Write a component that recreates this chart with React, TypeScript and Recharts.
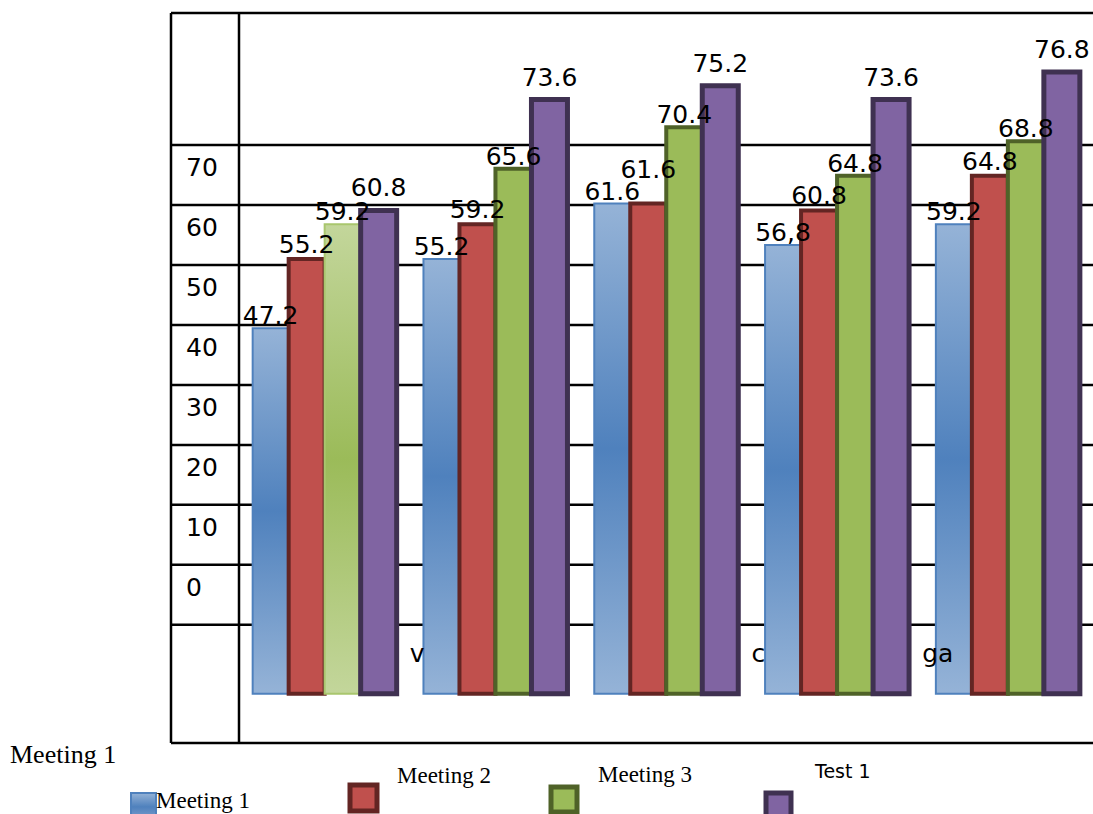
import { BarChart, Bar, XAxis, YAxis, CartesianGrid, LabelList, Cell } from "recharts";

// group names (mostly hidden behind the bars)
const categories = ["", "v", "", "c", "ga"];

const meeting1 = [47.2, 55.2, 61.6, 56.8, 59.2];
const meeting1Text = ["47.2", "55.2", "61.6", "56,8", "59.2"];
const meeting2 = [55.2, 59.2, 61.6, 60.8, 64.8];
const meeting3 = [59.2, 65.6, 70.4, 64.8, 68.8];
const test1 = [60.8, 73.6, 75.2, 73.6, 76.8];

const valueTicks = [0, 10, 20, 30, 40, 50, 60, 70];
const rowEdges = [-24.7, -5, 5, 15, 25, 35, 45, 55, 65, 75, 97];

const BAR_FLOOR = 5;
const LABEL_COLUMN = 68;
const W = 1093;
const H = 814;
const LABEL_FONT = "DejaVu Sans";
const LABEL_SIZE = 25;

const data = categories.map((name, i) => ({
  name,
  m1: meeting1[i],
  m1Text: meeting1Text[i],
  m2: meeting2[i],
  m2Text: meeting2[i].toFixed(1),
  m3: meeting3[i],
  m3Text: meeting3[i].toFixed(1),
  t1: test1[i],
  t1Text: test1[i].toFixed(1),
}));

function ValueTick({ y, payload }: any) {
  return (
    <text x={186} y={y + 1} fontFamily={LABEL_FONT} fontSize={LABEL_SIZE} fill="#000">
      {payload.value}
    </text>
  );
}

function CategoryTick({ x, payload }: any) {
  const start = x - (payload.offset ?? 0);
  return (
    <text x={start} y={662} fontFamily={LABEL_FONT} fontSize={LABEL_SIZE} fill="#000">
      {payload.value}
    </text>
  );
}

// Meeting 2 labels climb above the Meeting 1 label when both values are close
function Meeting2Label({ x, y, width, value, index }: any) {
  const lift = Math.abs(meeting1[index] - meeting2[index]) < 2 ? 20 : 0;
  return (
    <text
      x={x + width / 2}
      y={y - 6 - lift}
      textAnchor="middle"
      fontFamily={LABEL_FONT}
      fontSize={LABEL_SIZE}
      fill="#000"
    >
      {value}
    </text>
  );
}

const labelStyle = { fontFamily: LABEL_FONT, fontSize: LABEL_SIZE, fill: "#000" };

function Legend() {
  const serif = "Liberation Serif";
  return (
    <svg width={W} height={H} style={{ position: "absolute", left: 0, top: 0, pointerEvents: "none" }}>
      <defs>
        <linearGradient id="legendBlue" x1="0" y1="0" x2="0" y2="1">
          <stop offset="0%" stopColor="#95B3D7" />
          <stop offset="60%" stopColor="#4F81BD" />
          <stop offset="100%" stopColor="#6F95C8" />
        </linearGradient>
      </defs>
      <text x={10} y={763} fontFamily={serif} fontSize={26} fill="#000">Meeting 1</text>

      <rect x={131} y={793} width={25} height={23} fill="url(#legendBlue)" stroke="#4F81BD" strokeWidth={2} />
      <text x={156} y={808} fontFamily={serif} fontSize={23} fill="#000">Meeting 1</text>

      <rect x={350} y={785} width={27} height={26} fill="#C0504D" stroke="#632523" strokeWidth={5} />
      <text x={397} y={783} fontFamily={serif} fontSize={23} fill="#000">Meeting 2</text>

      <rect x={551} y={787} width={26} height={25} fill="#9BBB59" stroke="#4F6228" strokeWidth={5} />
      <text x={598} y={782} fontFamily={serif} fontSize={23} fill="#000">Meeting 3</text>

      <rect x={766} y={793} width={25} height={24} fill="#8064A2" stroke="#3F3151" strokeWidth={5} />
      <text x={815} y={778} fontFamily={LABEL_FONT} fontSize={19} fill="#000">Test 1</text>
    </svg>
  );
}

export default function App() {
  return (
    <div style={{ position: "absolute", left: 0, top: 0, width: W, height: H, background: "#fff" }}>
      <BarChart
        width={W}
        height={H}
        data={data}
        margin={{ top: 13, right: 0, bottom: 70, left: 171 }}
        barCategoryGap="8%"
        barGap={0}
      >
        <defs>
          <linearGradient id="blueFill" x1="0" y1="0" x2="0" y2="1">
            <stop offset="0%" stopColor="#95B3D7" />
            <stop offset="50%" stopColor="#4F81BD" />
            <stop offset="100%" stopColor="#95B3D7" />
          </linearGradient>
          <linearGradient id="paleGreenFill" x1="0" y1="0" x2="0" y2="1">
            <stop offset="0%" stopColor="#C3D69B" />
            <stop offset="50%" stopColor="#9BBB59" />
            <stop offset="100%" stopColor="#C3D69B" />
          </linearGradient>
        </defs>

        <XAxis
          xAxisId="cat"
          dataKey="name"
          height={1}
          padding={{ left: LABEL_COLUMN, right: 0 }}
          axisLine={false}
          tickLine={false}
          interval={0}
          tick={<CategoryTick />}
        />
        <YAxis
          yAxisId="grid"
          type="number"
          domain={[-24.7, 97]}
          ticks={valueTicks}
          allowDataOverflow
          mirror
          axisLine={false}
          tickLine={false}
          tick={<ValueTick />}
        />
        <YAxis yAxisId="bars" type="number" domain={[-0.7, 83.6]} hide allowDataOverflow />

        <CartesianGrid
          xAxisId="cat"
          yAxisId="grid"
          stroke="#000"
          strokeWidth={2.5}
          horizontalValues={rowEdges}
          verticalCoordinatesGenerator={({ offset }: any) => [offset.left, offset.left + LABEL_COLUMN]}
        />

        <Bar
          xAxisId="cat"
          yAxisId="bars"
          name="Meeting 1"
          dataKey={(d: any) => [BAR_FLOOR, d.m1]}
          fill="url(#blueFill)"
          stroke="#4F81BD"
          strokeWidth={2}
          isAnimationActive={false}
        >
          <LabelList dataKey="m1Text" position="top" offset={4} style={labelStyle} />
        </Bar>
        <Bar
          xAxisId="cat"
          yAxisId="bars"
          name="Meeting 2"
          dataKey={(d: any) => [BAR_FLOOR, d.m2]}
          fill="#C0504D"
          stroke="#632523"
          strokeWidth={4}
          isAnimationActive={false}
        >
          <LabelList dataKey="m2Text" content={<Meeting2Label />} />
        </Bar>
        <Bar
          xAxisId="cat"
          yAxisId="bars"
          name="Meeting 3"
          dataKey={(d: any) => [BAR_FLOOR, d.m3]}
          fill="#9BBB59"
          stroke="#4F6228"
          strokeWidth={4}
          isAnimationActive={false}
        >
          {data.map((_, i) => (
            <Cell
              key={i}
              fill={i === 0 ? "url(#paleGreenFill)" : "#9BBB59"}
              stroke={i === 0 ? "#A9C66E" : "#4F6228"}
              strokeWidth={i === 0 ? 2 : 4}
            />
          ))}
          <LabelList dataKey="m3Text" position="top" offset={4} style={labelStyle} />
        </Bar>
        <Bar
          xAxisId="cat"
          yAxisId="bars"
          name="Test 1"
          dataKey={(d: any) => [BAR_FLOOR, d.t1]}
          fill="#8064A2"
          stroke="#3F3151"
          strokeWidth={5}
          isAnimationActive={false}
        >
          <LabelList dataKey="t1Text" position="top" offset={14} style={labelStyle} />
        </Bar>
      </BarChart>
      <Legend />
    </div>
  );
}
